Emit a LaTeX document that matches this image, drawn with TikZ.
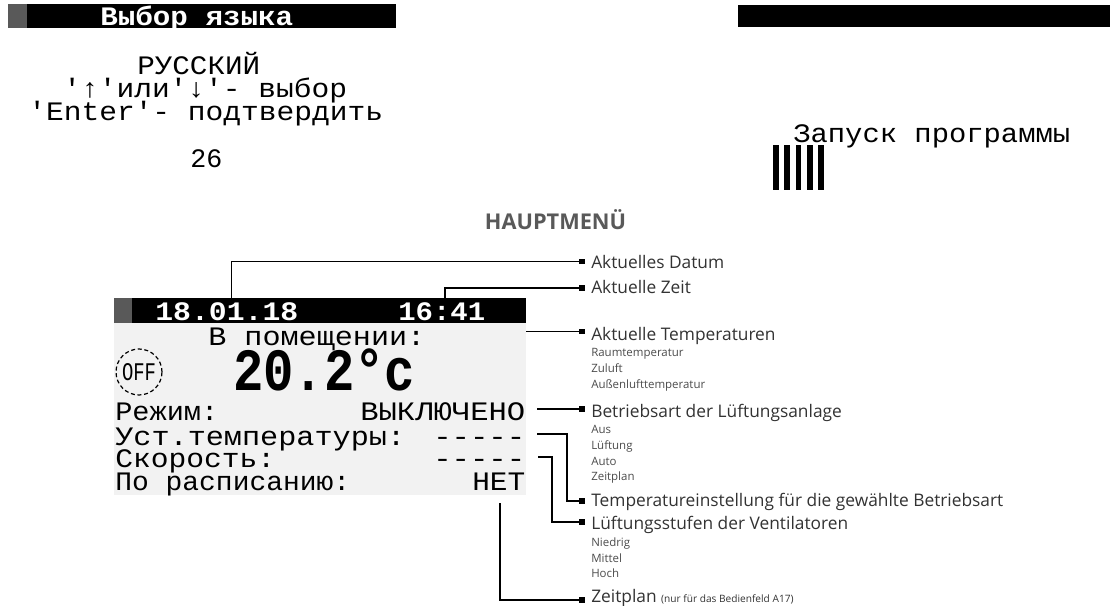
\documentclass[tikz,border=0pt]{standalone}
\usepackage{fontspec}
\setmainfont{Open Sans}
\newfontfamily\lcdfont{Liberation Mono}
\usetikzlibrary{arrows.meta,calc}
\newlength{\pxu}
\setlength{\pxu}{0.75pt}
\newcommand{\lcdtext}[2]{\resizebox{#1\pxu}{\height}{#2}}
\tikzset{
  lcd/.style={font=\lcdfont\fontsize{20pt}{20pt}\selectfont,inner sep=0pt,anchor=base west},
  lcdbar/.style={lcd,text=white,font=\lcdfont\bfseries\fontsize{20pt}{20pt}\selectfont},
  lead/.style={black,line width=0.8pt},
  tick/.style={fill=black,inner sep=0pt,minimum size=4pt},
  mainlabel/.style={inner sep=0pt,anchor=base west,font=\fontsize{13pt}{13pt}\selectfont,text=black!80},
  sublabel/.style={inner sep=0pt,anchor=base west,font=\fontsize{8.6pt}{9pt}\selectfont,text=black!70}
}
\begin{document}
\begin{tikzpicture}[x=0.75pt,y=-0.75pt]
  \useasboundingbox (0,0) rectangle (1110,606);
  \fill[white] (0,0) rectangle (1110,606);
  \fill[black] (8,4) rectangle (396,28.5);
  \fill[black!65] (8,4) rectangle (27,28.5);
  \node[lcdbar] (langtitle) at (100,26) {\lcdtext{193}{Выбор языка}};
  \node[lcd] (langname) at (137,75) {\lcdtext{123}{РУССКИЙ}};
  \node[lcd] (langkeys) at (63,98) {\lcdtext{284}{'↑'или'↓'- выбор}};
  \node[lcd] (langenter) at (28,121) {\lcdtext{355}{'Enter'- подтвердить}};
  \node[lcd] (langcount) at (190,168) {\lcdtext{32}{26}};

  \fill[black] (738,5) rectangle (1110,27);
  \node[lcd] (starttext) at (793,143) {\lcdtext{277}{Запуск программы}};
  \foreach \i in {0,...,4}
    \fill[black] ({773+11.3*\i},145) rectangle ++(5.6,45);

  \node[font=\bfseries\fontsize{16.3pt}{17pt}\selectfont,text=black!65,inner sep=0pt,anchor=base] (menutitle) at (555.5,229) {HAUPTMENÜ};

  \fill[black!5] (114,298) rectangle (526,495);
  \fill[black] (114,298) rectangle (526,323);
  \fill[black!65] (114,298) rectangle (132,323);
  \node[lcdbar] (datefield) at (155,320) {\lcdtext{143}{18.01.18}};
  \node[lcdbar] (timefield) at (398,320) {\lcdtext{87}{16:41}};
  \node[lcd] (roomtitle) at (208,345) {\lcdtext{217}{В помещении:}};
  \node[lcd,font=\lcdfont\bfseries\fontsize{45pt}{45pt}\selectfont] (roomtemp) at (233,390) {\lcdtext{182}{20.2°c}};
  \node[draw,circle,densely dashed,line width=0.9pt,minimum size=34.5pt,inner sep=0pt,font=\lcdfont\fontsize{12pt}{12pt}\selectfont] (offmark) at (139,372) {\resizebox{34\pxu}{17\pxu}{OFF}};
  \node[lcd] (modekey) at (115,420) {\lcdtext{103}{Режим:}};
  \node[lcd] (modeval) at (360,420) {\lcdtext{165}{ВЫКЛЮЧЕНО}};
  \node[lcd] (setkey) at (115,445) {\lcdtext{290}{Уст.температуры:}};
  \node[lcd] (setval) at (433,445) {\lcdtext{92}{-----}};
  \node[lcd] (speedkey) at (115,467) {\lcdtext{160}{Скорость:}};
  \node[lcd] (speedval) at (433,467) {\lcdtext{92}{-----}};
  \node[lcd] (plankey) at (115,490) {\lcdtext{235}{По расписанию:}};
  \node[lcd] (planval) at (472,490) {\lcdtext{53}{НЕТ}};

  \coordinate (datestart) at (231.5,298);
  \coordinate (timestart) at (445,298);
  \coordinate (tempstart) at (526,331.5);
  \coordinate (modestart) at (537,409);
  \coordinate (setstart) at (537,434);
  \coordinate (speedstart) at (538,457);
  \coordinate (planstart) at (500,503);

  \node[tick] (datetick) at (582,261.5) {};
  \node[tick] (timetick) at (582,288) {};
  \node[tick] (temptick) at (582,331.5) {};
  \node[tick] (modetick) at (582,409) {};
  \node[tick] (settick) at (582,501) {};
  \node[tick] (speedtick) at (582,522) {};
  \node[tick] (plantick) at (582,600) {};

  \draw[lead] (datestart) |- (datetick);
  \draw[lead] (timestart) |- (timetick);
  \draw[lead] (tempstart) -- (temptick);
  \draw[lead] (modestart) -- (modetick);
  \draw[lead] (setstart) -| (567,501) -- (settick);
  \draw[lead] (speedstart) -| (552,522) -- (speedtick);
  \draw[lead] (planstart) |- (plantick);

  \node[mainlabel] (datelabel) at (591,268) {Aktuelles Datum};
  \node[mainlabel] (timelabel) at (591,293) {Aktuelle Zeit};
  \node[mainlabel] (templabel) at (591,340) {Aktuelle Temperaturen};
  \node[mainlabel] (modelabel) at (591,417) {Betriebsart der Lüftungsanlage};
  \node[mainlabel] (setlabel) at (591,506) {Temperatureinstellung für die gewählte Betriebsart};
  \node[mainlabel] (speedlabel) at (591,529) {Lüftungsstufen der Ventilatoren};
  \node[mainlabel] (planlabel) at (591,602) {Zeitplan {\fontsize{7.6pt}{8pt}\selectfont (nur für das Bedienfeld A17)}};

  \foreach \name/\ypos/\entry in {room/356/Raumtemperatur,supply/372/Zuluft,outdoor/388/Außenlufttemperatur,
    off/433/Aus,vent/449/Lüftung,auto/465/Auto,sched/480/Zeitplan,
    low/546/Niedrig,mid/562/Mittel,high/577/Hoch}
    \node[sublabel] (\name label) at (591,\ypos) {\entry};
\end{tikzpicture}
\end{document}
